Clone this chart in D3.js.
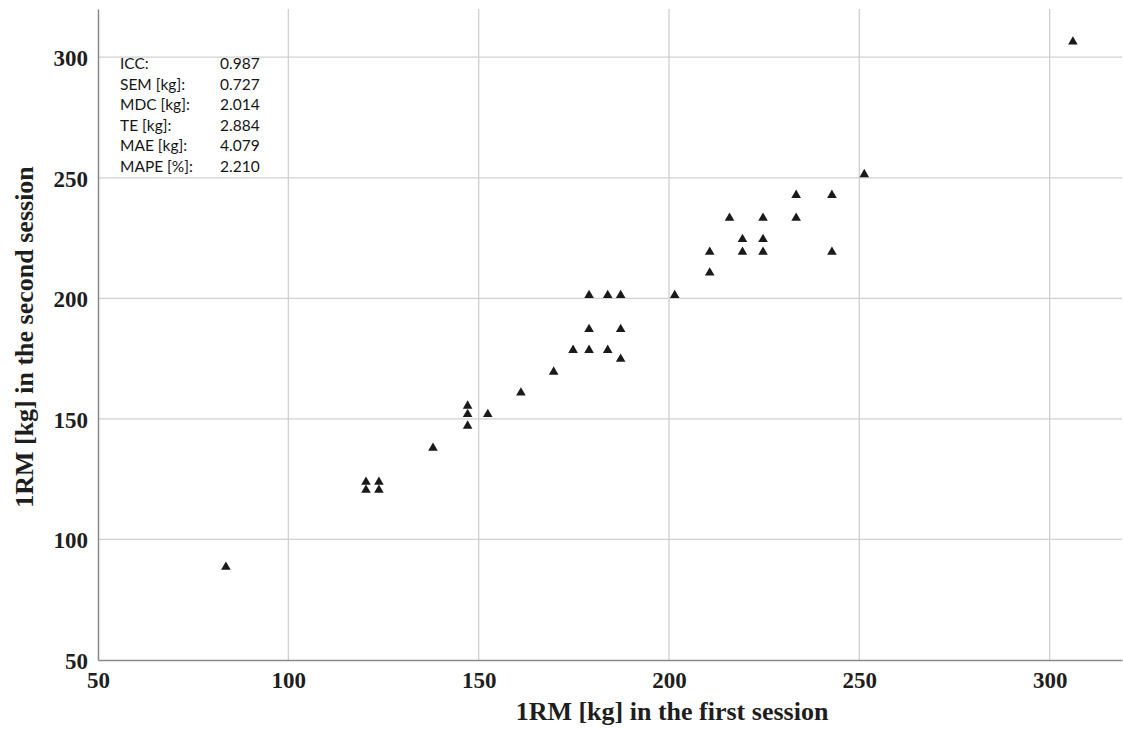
<!DOCTYPE html>
<html>
<head>
<meta charset="utf-8">
<script src="https://cdn.jsdelivr.net/npm/d3@7"></script>
<style>
  html, body { margin: 0; padding: 0; background: #fff; }
  svg { display: block; }
</style>
</head>
<body>
<svg id="chart" width="1123" height="729"></svg>
<script>
const firstSession = [83.6, 120.4, 120.4, 123.8, 123.8, 138.0, 147.1, 147.1, 147.1, 152.4, 161.1, 169.7, 174.8,
  179.0, 179.0, 179.0, 183.9, 183.9, 187.3, 187.3, 187.3, 201.5, 210.7, 210.7, 215.9, 219.3, 219.3,
  224.7, 224.7, 224.7, 233.4, 233.4, 242.8, 242.8, 251.3, 306.1];
const secondSession = [88.6, 123.8, 120.5, 123.8, 120.5, 137.9, 155.4, 151.9, 147.1, 151.9, 160.8, 169.5, 178.5,
  178.5, 187.2, 201.3, 178.5, 201.3, 174.8, 187.2, 201.3, 201.3, 210.6, 219.2, 233.3, 219.2, 224.5,
  219.2, 224.5, 233.3, 233.3, 242.8, 219.2, 242.8, 251.4, 306.4];
const tickValues = [50, 100, 150, 200, 250, 300];
const statLabels = ["ICC:", "SEM [kg]:", "MDC [kg]:", "TE [kg]:", "MAE [kg]:", "MAPE [%]:"];
const statValues = ["0.987", "0.727", "2.014", "2.884", "4.079", "2.210"];
const xTitle = "1RM [kg] in the first session";
const yTitle = "1RM [kg] in the second session";

const svg = d3.select("#chart");
const x = d3.scaleLinear().domain([50, 319]).range([98, 1122]);
const y = d3.scaleLinear().domain([50, 320]).range([660, 9]);

// gridlines
svg.append("g").selectAll("line").data(tickValues.filter(d => d > 50)).join("line")
  .attr("x1", d => x(d)).attr("x2", d => x(d))
  .attr("y1", y(320)).attr("y2", y(50))
  .attr("stroke", "#d0d0d0").attr("stroke-width", 1.3);
svg.append("g").selectAll("line").data(tickValues.filter(d => d > 50)).join("line")
  .attr("y1", d => y(d)).attr("y2", d => y(d))
  .attr("x1", x(50)).attr("x2", x(319))
  .attr("stroke", "#d0d0d0").attr("stroke-width", 1.3);

// axes
const xAxis = d3.axisBottom(x).tickValues(tickValues).tickSize(0).tickPadding(12);
const yAxis = d3.axisLeft(y).tickValues(tickValues).tickSize(0).tickPadding(10);
const gx = svg.append("g").attr("transform", `translate(0,${y(50)})`).call(xAxis);
const gy = svg.append("g").attr("transform", `translate(${x(50)},0)`).call(yAxis);
[gx, gy].forEach(g => {
  g.select(".domain").attr("stroke", "#8a8a8a").attr("stroke-width", 1.5);
  g.selectAll("text")
    .attr("font-family", "'Liberation Serif', 'Times New Roman', serif")
    .attr("font-weight", "bold").attr("font-size", 23).attr("fill", "#1e1e1e");
});
gy.selectAll("text").attr("dy", "0.36em");

// points
const sym = d3.symbol().type(d3.symbolTriangle).size(40);
svg.append("g").selectAll("path").data(firstSession.map((v, i) => [v, secondSession[i]])).join("path")
  .attr("d", sym)
  .attr("transform", d => `translate(${x(d[0])},${y(d[1])})`)
  .attr("fill", "#1a1a1a");

// stats box
const stats = svg.append("g");
statLabels.forEach((lab, i) => {
  const yy = 69 + i * 20.5;
  stats.append("text").attr("x", 120).attr("y", yy).text(lab)
    .attr("font-family", "Lato, 'Open Sans', sans-serif").attr("font-size", 15.5).attr("fill", "#161616");
  stats.append("text").attr("x", 220).attr("y", yy).text(statValues[i])
    .attr("font-family", "Lato, 'Open Sans', sans-serif").attr("font-size", 15.5).attr("fill", "#161616");
});

// titles
svg.append("text").attr("x", 672).attr("y", 720).attr("text-anchor", "middle")
  .attr("font-family", "'Liberation Serif', 'Times New Roman', serif")
  .attr("font-weight", "bold").attr("font-size", 26).attr("fill", "#1e1e1e").text(xTitle);
svg.append("text").attr("transform", "translate(33,337) rotate(-90)").attr("text-anchor", "middle")
  .attr("font-family", "'Liberation Serif', 'Times New Roman', serif")
  .attr("font-weight", "bold").attr("font-size", 26).attr("fill", "#1e1e1e").text(yTitle);
</script>
</body>
</html>
